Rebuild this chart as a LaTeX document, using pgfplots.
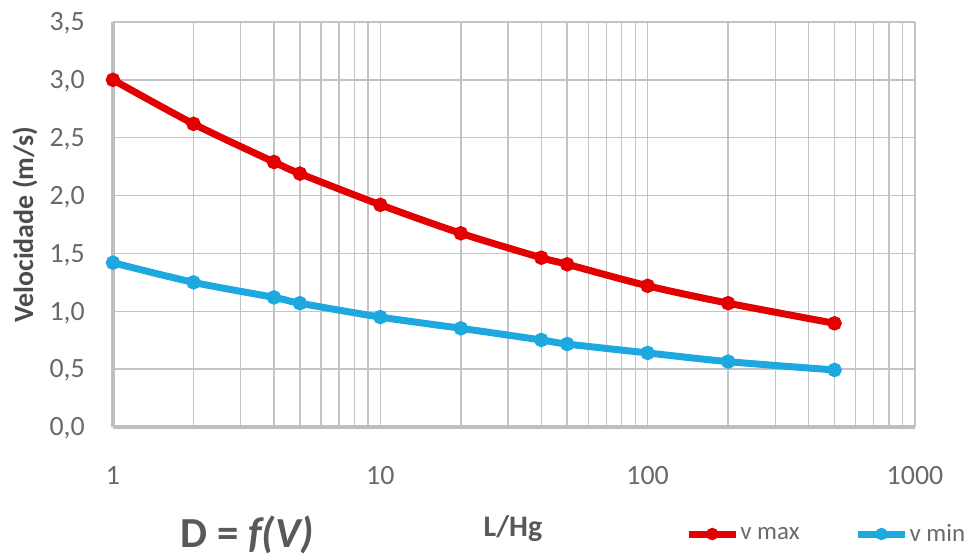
\documentclass[border=0pt]{standalone}
\usepackage{pgfplots}
\pgfplotsset{compat=1.18}
\usepackage{fontspec}
\setmainfont{Carlito}
\definecolor{vred}{RGB}{226,0,0}
\definecolor{vblue}{RGB}{30,168,224}
\definecolor{gridc}{RGB}{196,196,196}
\definecolor{axc}{RGB}{191,191,191}
\definecolor{txt}{RGB}{89,89,89}
\definecolor{ticktxt}{RGB}{105,105,105}
\pgfplotstableread{
x vmax vmin
1 3.00 1.42
2 2.62 1.25
4 2.29 1.12
5 2.19 1.07
10 1.92 0.95
20 1.674 0.853
40 1.463 0.752
50 1.406 0.717
100 1.22 0.64
200 1.07 0.565
500 0.896 0.493
}\datatable
\begin{document}
\begin{tikzpicture}
\path[use as bounding box] (-113bp,-133bp) rectangle (853bp,427bp);
\begin{axis}[
  at={(0,0)}, anchor=south west,
  scale only axis,
  width=802bp, height=405bp,
  xmode=log, xmin=1, xmax=1000, ymin=0, ymax=3.5,
  xtick={1,10,100,1000}, xticklabels={1,10,100,1000},
  ytick={0,0.5,1,1.5,2,2.5,3,3.5},
  /pgf/number format/.cd, assume math mode=true, use comma, fixed, fixed zerofill, precision=1,
  /pgfplots/.cd,
  major tick length=0pt, minor tick length=0pt,
  grid=both,
  major grid style={gridc, line width=1.4bp},
  minor grid style={gridc, line width=1.4bp},
  axis x line*=bottom, axis y line*=left,
  axis line style={axc, line width=4bp, -},
  tick label style={font=\fontsize{28}{30}\selectfont, text=ticktxt},
  xticklabel style={anchor=north, inner sep=0pt, yshift=-39bp},
  yticklabel style={anchor=base east, inner sep=0pt, xshift=-28bp, yshift=-8.8bp},
  ylabel={\bfseries Velocidade (m/s)},
  ylabel style={font=\fontsize{28}{30}\selectfont, text=txt!85!black, at={(axis description cs:0,0.5)}, anchor=center, yshift=88bp},
  xlabel={\bfseries L/Hg},
  xlabel style={font=\fontsize{30}{32}\selectfont, text=txt, at={(axis description cs:0.5,0)}, anchor=center, yshift=-102bp, xshift=-1bp},
  legend columns=2,
  legend style={at={(axis description cs:0.7133,-0.2642)}, anchor=west, draw=none, fill=none, inner sep=0pt,
    font=\fontsize{25}{27}\selectfont, text=ticktxt,
    /tikz/every even column/.append style={column sep=54bp},
    nodes={inner sep=1bp}},
  legend image code/.code={\draw[#1, mark repeat=2, mark phase=2, mark size=2.5bp] plot coordinates {(0bp,0bp) (23.5bp,0bp) (47bp,0bp)};},
  clip=false,
]
\addplot[vred, line width=7bp, smooth, mark=*, mark size=3.6bp] table[x=x, y=vmax] {\datatable};
\addlegendentry{v max}
\addplot[vblue, line width=7bp, smooth, mark=*, mark size=3.6bp] table[x=x, y=vmin] {\datatable};
\addlegendentry{v min}
\node[font=\fontsize{43}{45}\selectfont\bfseries, text=txt, anchor=center, inner sep=0pt] at (axis description cs:0.1675,-0.2667) {D = \textit{f(V)}};
\end{axis}
\end{tikzpicture}
\end{document}
